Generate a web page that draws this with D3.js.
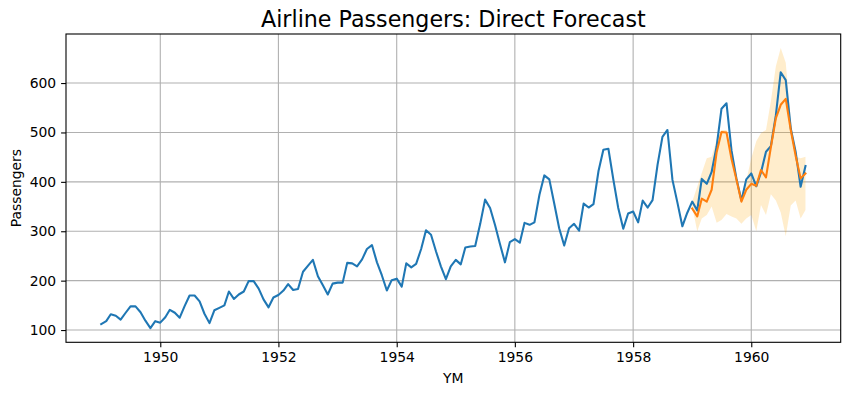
<!DOCTYPE html>
<html>
<head>
<meta charset="utf-8">
<script src="https://cdn.jsdelivr.net/npm/d3@7"></script>
<style>
  body { margin: 0; background: #fff; }
  svg { display: block; font-family: "DejaVu Sans", sans-serif; }
</style>
</head>
<body>
<div id="chart"></div>
<script>
// monthly passengers, 1949-01 .. 1960-12
var years = [1949, 1950, 1951, 1952, 1953, 1954, 1955, 1956, 1957, 1958, 1959, 1960];
var passengers = [
  112, 118, 132, 129, 121, 135, 148, 148, 136, 119, 104, 118,
  115, 126, 141, 135, 125, 149, 170, 170, 158, 133, 114, 140,
  145, 150, 178, 163, 172, 178, 199, 199, 184, 162, 146, 166,
  171, 180, 193, 181, 183, 218, 230, 242, 209, 191, 172, 194,
  196, 196, 236, 235, 229, 243, 264, 272, 237, 211, 180, 201,
  204, 188, 235, 227, 234, 264, 302, 293, 259, 229, 203, 229,
  242, 233, 267, 269, 270, 315, 364, 347, 312, 274, 237, 278,
  284, 277, 317, 313, 318, 374, 413, 405, 355, 306, 271, 306,
  315, 301, 356, 348, 355, 422, 465, 467, 404, 347, 305, 336,
  340, 318, 362, 348, 363, 435, 491, 505, 404, 359, 310, 337,
  360, 342, 406, 396, 420, 472, 548, 559, 463, 407, 362, 405,
  417, 391, 419, 461, 472, 535, 622, 606, 508, 461, 390, 432
];

// direct forecast over the last 24 months, 1959-01 .. 1960-12
var forecastStart = 1959;
var forecast = [
  346, 330, 366, 360, 384, 460, 501, 500, 446, 405, 360, 384,
  396, 392, 424, 409, 470, 529, 556, 568, 505, 453, 407, 417
];
var lower = [
  350, 300, 326, 333, 350, 317, 323, 335, 330, 326, 315, 326,
  333, 300, 353, 333, 375, 362, 338, 290, 352, 362, 326, 343
];
var upper = [
  360, 390, 418, 448, 451, 485, 505, 505, 465, 418, 372, 402,
  448, 482, 499, 505, 563, 634, 671, 641, 526, 451, 448, 451
];

var yTicks = [100, 200, 300, 400, 500, 600];

var width = 850, height = 395;
var plotLeft = 66, plotRight = 840.7, plotTop = 34, plotBottom = 342.3;

var series = passengers.map(function (v, i) {
  return { date: new Date(years[0] + Math.floor(i / 12), i % 12, 1), value: v };
});
var fc = forecast.map(function (v, i) {
  return {
    date: new Date(forecastStart + Math.floor(i / 12), i % 12, 1),
    value: v, lo: lower[i], hi: upper[i]
  };
});

var svg = d3.select("#chart").append("svg")
  .attr("width", width)
  .attr("height", height);

// x domain with matplotlib-like 5% margins
var t0 = series[0].date.getTime(), t1 = series[series.length - 1].date.getTime();
var pad = (t1 - t0) * 0.05;
var xScale = d3.scaleTime()
  .domain([new Date(t0 - pad), new Date(t1 + pad)])
  .range([plotLeft, plotRight]);
var yScale = d3.scaleLinear()
  .domain([75.2, 699.3])
  .range([plotBottom, plotTop]);

var xTicks = xScale.ticks(d3.timeYear.every(2));

// grid
var grid = svg.append("g");
xTicks.forEach(function (t) {
  grid.append("line")
    .attr("x1", xScale(t)).attr("x2", xScale(t))
    .attr("y1", plotTop).attr("y2", plotBottom)
    .style("stroke", "#b0b0b0").style("stroke-width", 1.1);
});
yTicks.forEach(function (t) {
  grid.append("line")
    .attr("x1", plotLeft).attr("x2", plotRight)
    .attr("y1", yScale(t)).attr("y2", yScale(t))
    .style("stroke", "#b0b0b0").style("stroke-width", 1.1);
});

// confidence band
svg.append("path")
  .datum(fc)
  .attr("d", d3.area()
    .x(function (d) { return xScale(d.date); })
    .y0(function (d) { return yScale(d.lo); })
    .y1(function (d) { return yScale(d.hi); }))
  .style("fill", "orange")
  .style("fill-opacity", 0.2);

var line = d3.line()
  .x(function (d) { return xScale(d.date); })
  .y(function (d) { return yScale(d.value); });

svg.append("path")
  .datum(series)
  .attr("d", line)
  .style("fill", "none")
  .style("stroke", "#1f77b4")
  .style("stroke-width", 2.08)
  .style("stroke-linejoin", "round")
  .style("stroke-linecap", "square");

svg.append("path")
  .datum(fc)
  .attr("d", line)
  .style("fill", "none")
  .style("stroke", "#ff7f0e")
  .style("stroke-width", 2.08)
  .style("stroke-linejoin", "round")
  .style("stroke-linecap", "square");

// axes
var xAxis = d3.axisBottom(xScale)
  .tickValues(xTicks)
  .tickFormat(d3.timeFormat("%Y"))
  .tickSize(4.9)
  .tickPadding(4.9);
var yAxis = d3.axisLeft(yScale)
  .tickValues(yTicks)
  .tickSize(4.9)
  .tickPadding(4.9);

var gx = svg.append("g")
  .attr("transform", "translate(0," + plotBottom + ")")
  .call(xAxis);
var gy = svg.append("g")
  .attr("transform", "translate(" + plotLeft + ",0)")
  .call(yAxis);
[gx, gy].forEach(function (g) {
  g.select(".domain").remove();
  g.selectAll(".tick line").style("stroke", "#000").style("stroke-width", 1.1);
  g.selectAll(".tick text").style("font-size", "13.9px").style("fill", "#000")
    .style("font-family", "DejaVu Sans, sans-serif");
});

// frame
svg.append("rect")
  .attr("x", plotLeft).attr("y", plotTop)
  .attr("width", plotRight - plotLeft).attr("height", plotBottom - plotTop)
  .style("fill", "none").style("stroke", "#000").style("stroke-width", 1.1);

// labels
svg.append("text")
  .attr("x", (plotLeft + plotRight) / 2).attr("y", 26.5)
  .attr("text-anchor", "middle")
  .style("font-size", "22.2px")
  .text("Airline Passengers: Direct Forecast");

svg.append("text")
  .attr("x", (plotLeft + plotRight) / 2).attr("y", 383)
  .attr("text-anchor", "middle")
  .style("font-size", "13.9px")
  .text("YM");

svg.append("text")
  .attr("transform", "translate(21," + (plotTop + plotBottom) / 2 + ") rotate(-90)")
  .attr("text-anchor", "middle")
  .style("font-size", "13.9px")
  .text("Passengers");
</script>
</body>
</html>
